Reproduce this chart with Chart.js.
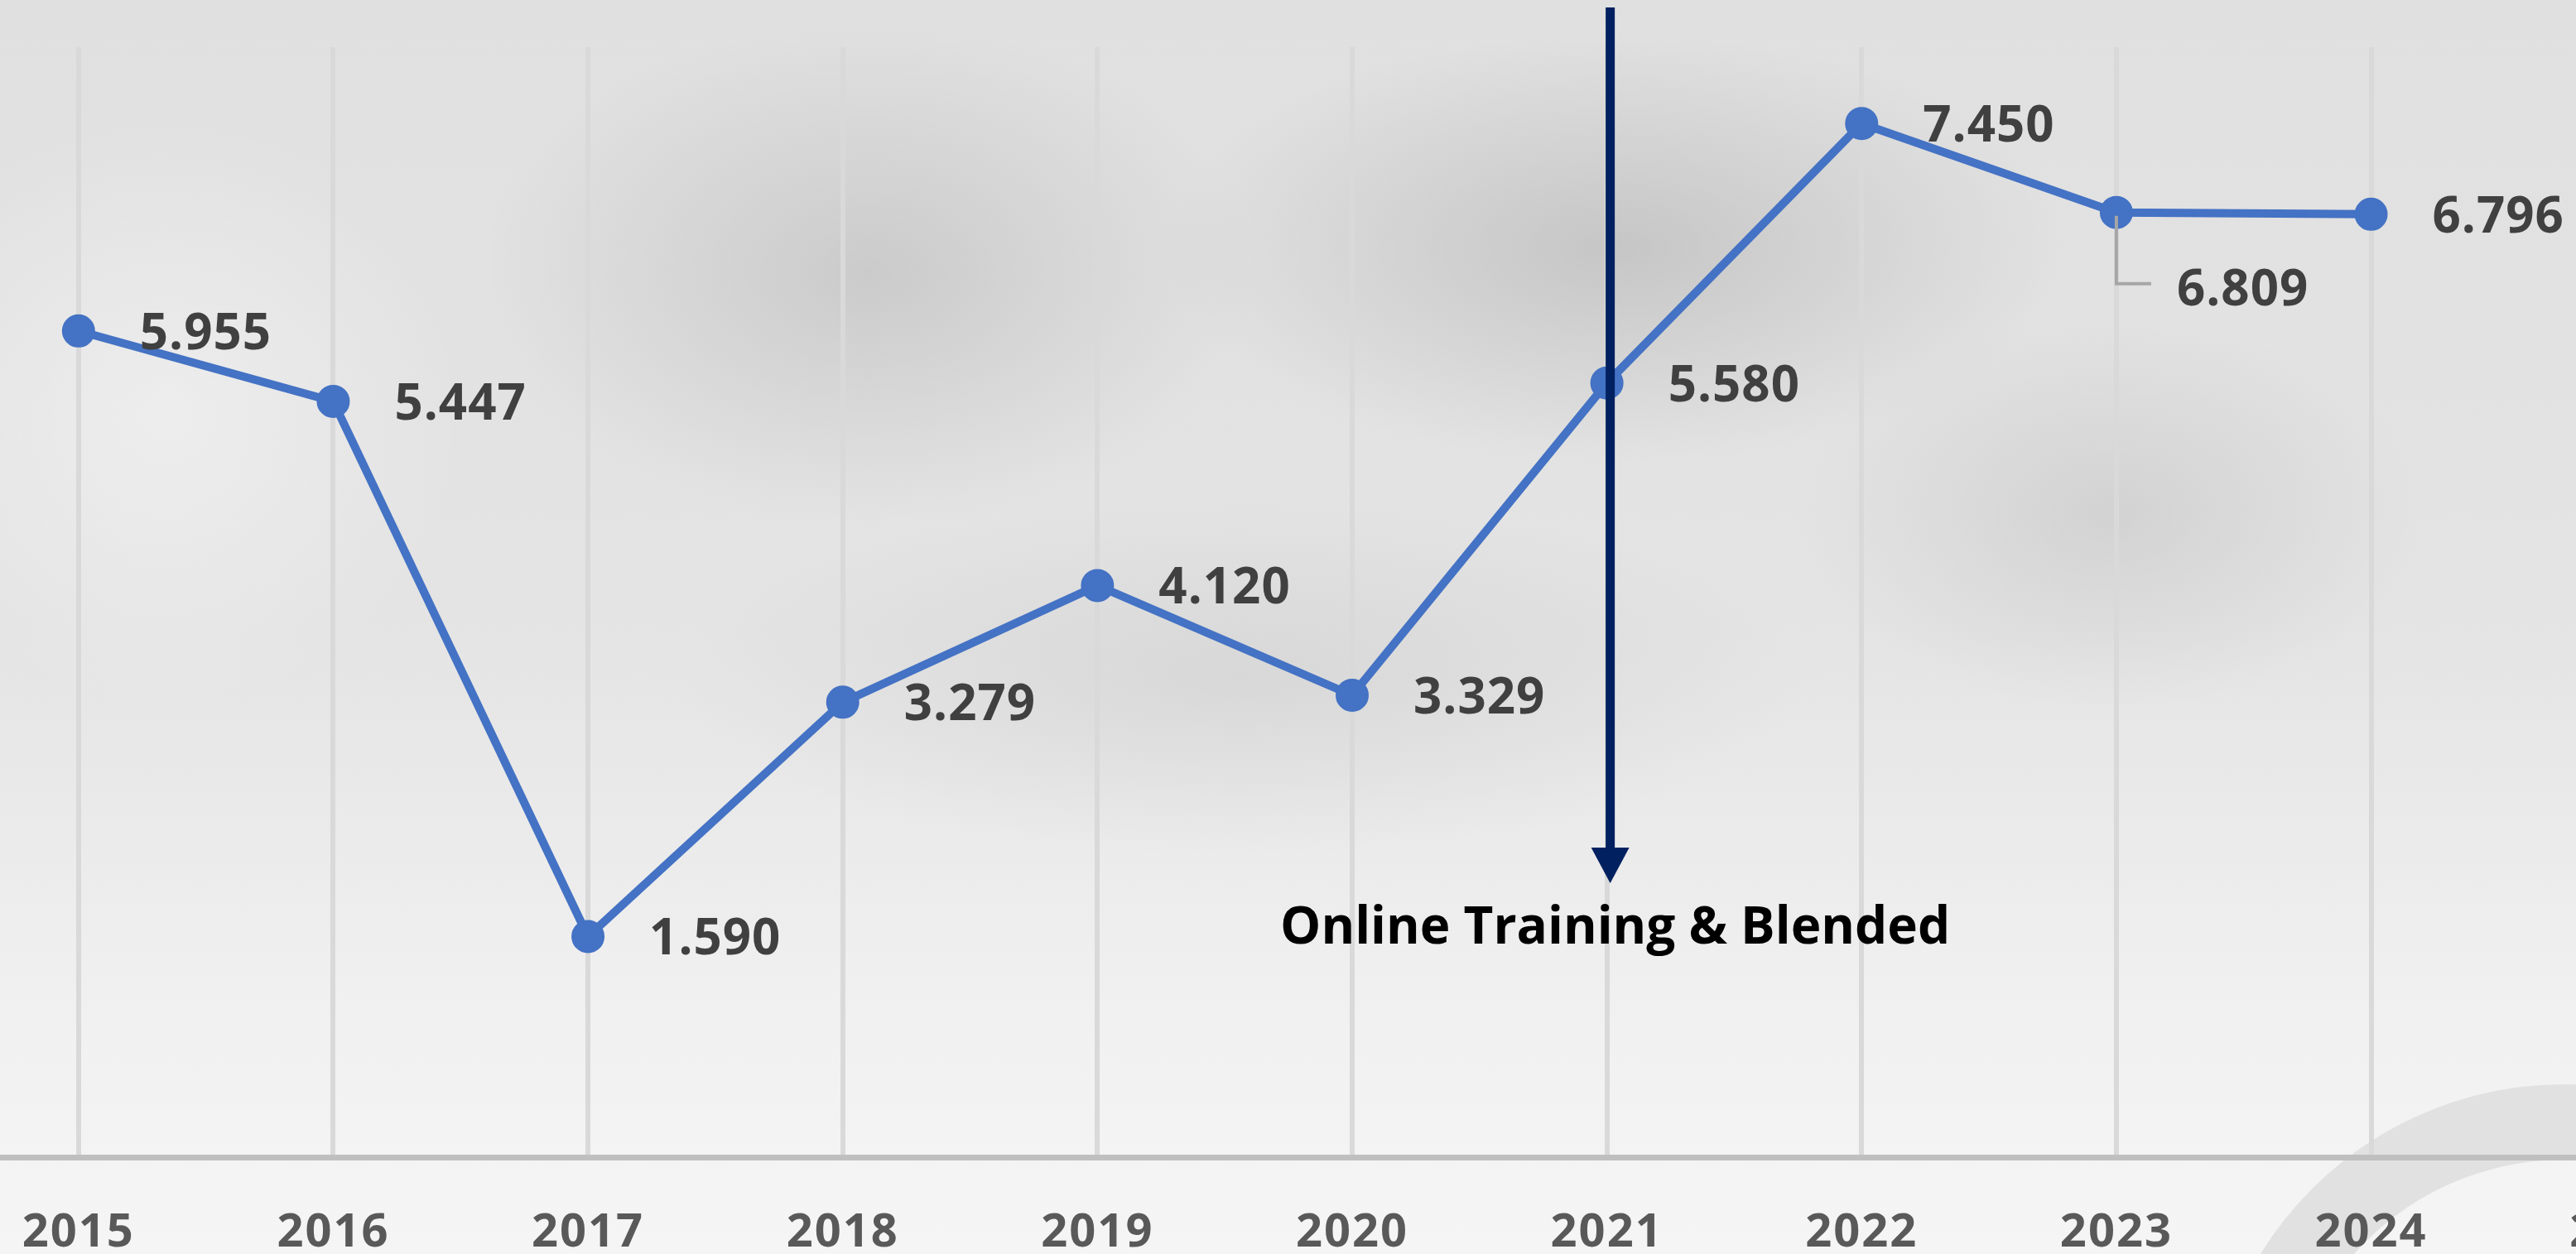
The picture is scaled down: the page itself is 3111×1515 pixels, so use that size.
<!DOCTYPE html>
<html>
<head>
<meta charset="utf-8">
<script src="https://cdn.jsdelivr.net/npm/chart.js@4.4.1/dist/chart.umd.min.js"></script>
<style>
html,body{margin:0;padding:0;width:3111px;height:1515px;overflow:hidden;}
body{position:relative;background:
 radial-gradient(ellipse 760px 360px at 1950px 300px, rgba(170,170,170,0.50), rgba(170,170,170,0) 72%),
 radial-gradient(ellipse 650px 420px at 1050px 330px, rgba(175,175,175,0.45), rgba(175,175,175,0) 72%),
 radial-gradient(ellipse 520px 330px at 2550px 620px, rgba(185,185,185,0.40), rgba(185,185,185,0) 72%),
 radial-gradient(ellipse 950px 300px at 1500px 820px, rgba(190,190,190,0.35), rgba(190,190,190,0) 72%),
 radial-gradient(ellipse 500px 500px at 200px 500px, rgba(250,250,250,0.45), rgba(250,250,250,0) 72%),
 linear-gradient(to bottom, #e0e0e0 0%, #e4e4e4 50%, #f1f1f1 82%, #f5f5f5 100%);}
#ring{position:absolute;left:2666px;top:1310px;width:680px;height:680px;border:91px solid #e1e1e1;border-radius:50%;z-index:0;}
#c{position:absolute;left:-100px;top:0;z-index:1;}
</style>
</head>
<body>
<div id="ring"></div>
<canvas id="c" width="3425" height="1520"></canvas>
<script>
// ---- data ----
const years = ['2015','2016','2017','2018','2019','2020','2021','2022','2023','2024','2025'];
const values = [5.955, 5.447, 1.590, 3.279, 4.120, 3.329, 5.580, 7.450, 6.809, 6.796];
const annotationText = 'Online Training & Blended';
const annotationIndex = 6;   // category the arrow marks
const leaderIndex = 8;       // label placed below with a leader line

const spacingPlugin = {
  id: 'spacing',
  beforeDraw(chart) { chart.ctx.letterSpacing = '2px'; },
  afterDraw(chart) { chart.ctx.letterSpacing = '0px'; }
};

const labelPlugin = {
  id: 'labels',
  afterDatasetsDraw(chart) {
    const ctx = chart.ctx;
    const meta = chart.getDatasetMeta(0);
    const xs = chart.scales.x;
    ctx.save();
    // annotation arrow
    const ax = xs.getPixelForValue(annotationIndex) + 4;
    ctx.strokeStyle = '#002060';
    ctx.fillStyle = '#002060';
    ctx.lineWidth = 11;
    ctx.beginPath();
    ctx.moveTo(ax, 9);
    ctx.lineTo(ax, 1026);
    ctx.stroke();
    ctx.beginPath();
    ctx.moveTo(ax - 23, 1024);
    ctx.lineTo(ax + 23, 1024);
    ctx.lineTo(ax, 1067);
    ctx.closePath();
    ctx.fill();
    // annotation text
    ctx.letterSpacing = '0px';
    ctx.fillStyle = '#000000';
    ctx.font = '700 62px "Open Sans"';
    ctx.textAlign = 'center';
    ctx.textBaseline = 'alphabetic';
    ctx.fillText(annotationText, ax + 6, 1140);
    // data labels
    ctx.letterSpacing = '1px';
    ctx.font = '700 60px "Open Sans"';
    ctx.fillStyle = '#404040';
    ctx.textAlign = 'left';
    meta.data.forEach((pt, i) => {
      const txt = values[i].toFixed(3);
      if (i === leaderIndex) {
        ctx.strokeStyle = '#a6a6a6';
        ctx.lineWidth = 4;
        ctx.beginPath();
        ctx.moveTo(pt.x, pt.y + 4);
        ctx.lineTo(pt.x, pt.y + 86);
        ctx.lineTo(pt.x + 42, pt.y + 86);
        ctx.stroke();
        ctx.fillText(txt, pt.x + 73, pt.y + 90 + 22);
      } else {
        ctx.fillText(txt, pt.x + 74, pt.y + 22);
      }
    });
    ctx.restore();
  }
};

new Chart(document.getElementById('c'), {
  type: 'line',
  data: {
    labels: years,
    datasets: [{
      data: values,
      borderColor: '#4472C4',
      backgroundColor: '#4472C4',
      borderWidth: 10,
      pointRadius: 19,
      pointBorderWidth: 2,
      pointBackgroundColor: '#4472C4',
      pointBorderColor: '#4472C4',
      tension: 0,
      fill: false,
      clip: false
    }]
  },
  options: {
    responsive: false,
    animation: false,
    devicePixelRatio: 1,
    events: [],
    layout: { autoPadding: false, padding: { left: 41, right: 0, top: 57, bottom: 0 } },
    plugins: { legend: { display: false }, tooltip: { enabled: false } },
    scales: {
      x: {
        type: 'category',
        offset: true,
        grid: { offset: false, color: '#d9d9d9', lineWidth: 6, drawTicks: true, tickLength: 58, tickColor: 'rgba(0,0,0,0)', drawOnChartArea: true },
        border: { display: true, color: '#bfbfbf', width: 7 },
        ticks: {
          autoSkip: false, maxRotation: 0, minRotation: 0, padding: 0,
          color: '#595959',
          font: { family: '"Open Sans"', size: 56, weight: '700' }
        },
        afterFit(scale) { scale.height = 122; scale.paddingLeft = 0; scale.paddingRight = 0; }
      },
      y: {
        display: false,
        min: 0,
        max: 8
      }
    }
  },
  plugins: [spacingPlugin, labelPlugin]
});
</script>
</body>
</html>
